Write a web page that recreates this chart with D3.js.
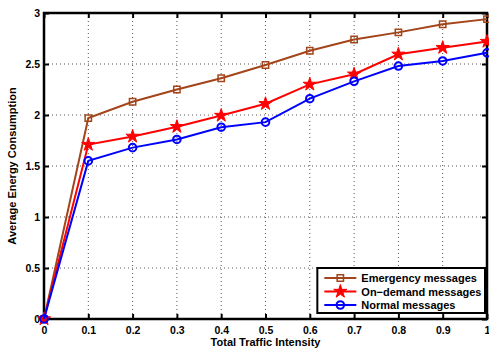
<!DOCTYPE html>
<html>
<head>
<meta charset="utf-8">
<script src="https://cdn.jsdelivr.net/npm/d3@7"></script>
<style>
  body { margin: 0; background: #fff; }
  svg text { font-family: "Liberation Sans", Arial, sans-serif; font-weight: bold; fill: #000; }
</style>
</head>
<body>
<div id="chart"></div>
<script>
// traffic intensity values (x)
let intensity = [0, 0.1, 0.2, 0.3, 0.4, 0.5, 0.6, 0.7, 0.8, 0.9, 1.0];

let emergency = [0, 1.97, 2.13, 2.25, 2.36, 2.49, 2.63, 2.74, 2.81, 2.89, 2.94];
let onDemand  = [0, 1.71, 1.79, 1.885, 1.995, 2.11, 2.30, 2.40, 2.595, 2.66, 2.72];
let normal    = [0, 1.55, 1.68, 1.76, 1.88, 1.93, 2.16, 2.33, 2.48, 2.53, 2.61];

let seriesNames = ['Emergency messages', 'On\u2212demand messages', 'Normal messages'];
let seriesColors = ['#a3441a', '#ff0000', '#0000ff'];
let seriesMarkers = ['square', 'star', 'circle'];

let xTicks = [0, 0.1, 0.2, 0.3, 0.4, 0.5, 0.6, 0.7, 0.8, 0.9, 1];
let yTicks = [0, 0.5, 1, 1.5, 2, 2.5, 3];

let margin = { top: 13, right: 2, bottom: 31, left: 44 };
let width = 489 - margin.left - margin.right;
let height = 350 - margin.top - margin.bottom;

let svg = d3.select('#chart')
  .append('svg')
  .attr('width', 489)
  .attr('height', 350)
  .append('g')
  .attr('transform', 'translate(' + margin.left + ',' + margin.top + ')');

let x = d3.scaleLinear().domain([0, 1]).range([0, width]);
let y = d3.scaleLinear().domain([0, 3]).range([height, 0]);

// grid
svg.append('g')
  .selectAll('line')
  .data(xTicks.slice(1, -1))
  .enter().append('line')
  .attr('x1', d => x(d)).attr('x2', d => x(d))
  .attr('y1', 0).attr('y2', height)
  .attr('stroke', '#555')
  .attr('stroke-width', 1)
  .attr('stroke-dasharray', '1,3');

svg.append('g')
  .selectAll('line')
  .data(yTicks.slice(1, -1))
  .enter().append('line')
  .attr('x1', 0).attr('x2', width)
  .attr('y1', d => y(d)).attr('y2', d => y(d))
  .attr('stroke', '#555')
  .attr('stroke-width', 1)
  .attr('stroke-dasharray', '1,3');

// axes
let xAxis = svg.append('g')
  .attr('transform', 'translate(0,' + height + ')')
  .call(d3.axisBottom(x).tickValues(xTicks).tickSize(-5).tickPadding(8).tickFormat(d3.format('')));
let yAxis = svg.append('g')
  .call(d3.axisLeft(y).tickValues(yTicks).tickSize(-5).tickPadding(4).tickFormat(d3.format('')));
let xAxisTop = svg.append('g')
  .call(d3.axisTop(x).tickValues(xTicks).tickSize(-5).tickFormat(''));
let yAxisRight = svg.append('g')
  .attr('transform', 'translate(' + width + ',0)')
  .call(d3.axisRight(y).tickValues(yTicks).tickSize(-5).tickFormat(''));

[xAxis, yAxis, xAxisTop, yAxisRight].forEach(a => {
  a.select('.domain').remove();
  a.selectAll('line').attr('stroke', '#000').attr('stroke-width', 2);
  a.selectAll('text').attr('font-size', 10.5).style('font-family', '"Liberation Sans", Arial, sans-serif');
});

svg.append('rect')
  .attr('x', 0).attr('y', 0)
  .attr('width', width).attr('height', height)
  .attr('fill', 'none')
  .attr('stroke', '#000')
  .attr('stroke-width', 2.5);

// axis titles
svg.append('text')
  .attr('x', width / 2)
  .attr('y', height + 27)
  .attr('text-anchor', 'middle')
  .attr('font-size', 11)
  .text('Total Traffic Intensity');

svg.append('text')
  .attr('transform', 'translate(' + (-28) + ',' + (height / 2) + ') rotate(-90)')
  .attr('text-anchor', 'middle')
  .attr('font-size', 11)
  .text('Average Energy Consumption');

// series
let allSeries = [emergency, onDemand, normal];
let line = d3.line()
  .x((d, i) => x(intensity[i]))
  .y(d => y(d));

let symbolFor = {
  square: d3.symbol().type(d3.symbolSquare).size(40),
  star: d3.symbol().type(d3.symbolStar).size(55),
  circle: d3.symbol().type(d3.symbolCircle).size(45)
};

function drawMarker(g, type, color) {
  let p = g.append('path').attr('d', symbolFor[type]());
  if (type === 'star') {
    p.attr('fill', color).attr('stroke', color).attr('stroke-width', 1);
  } else {
    p.attr('fill', 'none').attr('stroke', color).attr('stroke-width', type === 'circle' ? 2 : 1.5);
  }
}

allSeries.forEach((vals, s) => {
  svg.append('path')
    .datum(vals)
    .attr('d', line)
    .attr('fill', 'none')
    .attr('stroke', seriesColors[s])
    .attr('stroke-width', 2);
  vals.forEach((v, i) => {
    let g = svg.append('g').attr('transform', 'translate(' + x(intensity[i]) + ',' + y(v) + ')');
    drawMarker(g, seriesMarkers[s], seriesColors[s]);
  });
});

// legend
let legend = svg.append('g')
  .attr('transform', 'translate(' + (x(0.617)) + ',' + (y(0.5) + 0) + ')');

legend.append('rect')
  .attr('x', 0).attr('y', 0)
  .attr('width', x(1) - x(0.617) - 2)
  .attr('height', 45)
  .attr('fill', '#fff')
  .attr('stroke', '#000')
  .attr('stroke-width', 2);

seriesNames.forEach((name, i) => {
  let row = legend.append('g').attr('transform', 'translate(0,' + (10 + i * 13.5) + ')');
  row.append('line')
    .attr('x1', 7).attr('x2', 39)
    .attr('y1', 0).attr('y2', 0)
    .attr('stroke', seriesColors[i])
    .attr('stroke-width', 2);
  let m = row.append('g').attr('transform', 'translate(23,0)');
  drawMarker(m, seriesMarkers[i], seriesColors[i]);
  row.append('text')
    .attr('x', 44)
    .attr('y', 4)
    .attr('font-size', 11)
    .text(name);
});
</script>
</body>
</html>
